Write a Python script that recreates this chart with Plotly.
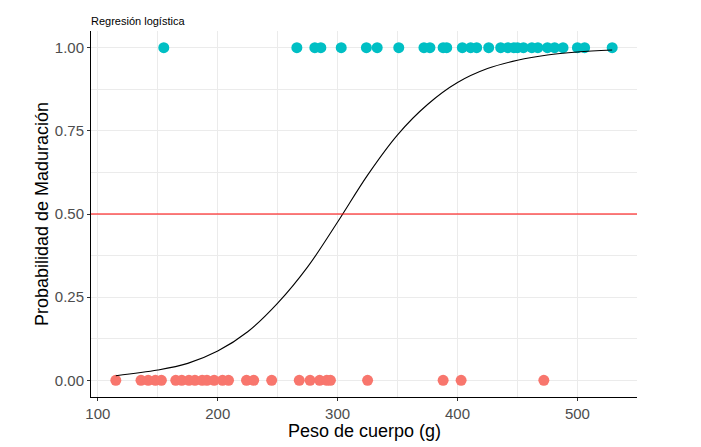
import plotly.graph_objects as go

# Peso de cuerpo (g) de individuos maduros (1) e inmaduros (0)
PESO_MADUROS = [155, 266, 281, 286, 303, 324, 333, 351, 372, 377, 388, 391, 404, 411,
                416, 426, 436, 442, 447, 450, 455, 462, 467, 475, 481, 488, 500, 506, 529]
PESO_INMADUROS = [115, 136, 142, 148, 153, 165, 170, 176, 181, 187, 191, 197, 204, 209,
                  224, 230, 245, 268, 277, 285, 291, 294, 325, 388, 403, 472]

# curva ajustada (glm binomial)
CURVA_PESO = [115, 150, 175, 200, 225, 250, 275, 300, 325, 350, 375, 400, 425, 450, 475, 500, 529]
CURVA_PROB = [0.014, 0.031, 0.051, 0.088, 0.146, 0.232, 0.341, 0.476, 0.617, 0.738,
              0.829, 0.895, 0.937, 0.962, 0.978, 0.987, 0.993]

UMBRAL = 0.5

X_TICKS = [100, 200, 300, 400, 500]
Y_TICKS = [0, 0.25, 0.5, 0.75, 1.0]
Y_TICK_LABELS = ["0.00", "0.25", "0.50", "0.75", "1.00"]

COLOR_MADURO = "#00BFC4"
COLOR_INMADURO = "#F8766D"
GRID = "#EBEBEB"
FONT = "Liberation Sans, Arial, sans-serif"

fig = go.Figure()

fig.add_trace(
    go.Scatter(
        x=PESO_INMADUROS,
        y=[0] * len(PESO_INMADUROS),
        mode="markers",
        marker={"size": 11, "color": COLOR_INMADURO},
        name="0",
    )
)
fig.add_trace(
    go.Scatter(
        x=PESO_MADUROS,
        y=[1] * len(PESO_MADUROS),
        mode="markers",
        marker={"size": 11, "color": COLOR_MADURO},
        name="1",
    )
)
fig.add_trace(
    go.Scatter(
        x=CURVA_PESO,
        y=CURVA_PROB,
        mode="lines",
        line={"color": "black", "width": 1.1, "shape": "spline", "smoothing": 1},
        name="glm",
    )
)

fig.add_hline(y=UMBRAL, line={"color": "#FF0000", "width": 1.2})

axis_common = {
    "showgrid": True,
    "gridcolor": GRID,
    "gridwidth": 1,
    "zeroline": False,
    "showline": True,
    "linecolor": "black",
    "linewidth": 1,
    "ticks": "outside",
    "ticklen": 3,
    "tickcolor": "#333333",
    "tickfont": {"family": FONT, "size": 15, "color": "#4D4D4D"},
}

fig.update_xaxes(
    range=[94.3, 549.7],
    tickvals=X_TICKS,
    minor={"dtick": 50, "showgrid": True, "gridcolor": GRID, "gridwidth": 0.8},
    **axis_common,
)
fig.update_yaxes(
    range=[-0.05, 1.05],
    tickvals=Y_TICKS,
    ticktext=Y_TICK_LABELS,
    title={"text": "Probabilidad de Maduración", "font": {"family": FONT, "size": 18, "color": "black"},
           "standoff": 1},
    minor={"dtick": 0.125, "tick0": 0, "showgrid": True, "gridcolor": GRID, "gridwidth": 0.8},
    **axis_common,
)

# titulo del eje x como anotacion, un poco mas cerca de las etiquetas
fig.add_annotation(
    text="Peso de cuerpo (g)",
    xref="paper",
    yref="paper",
    x=0.5,
    y=-0.092,
    xanchor="center",
    yanchor="middle",
    showarrow=False,
    font={"family": FONT, "size": 18, "color": "black"},
)

fig.update_layout(
    width=701,
    height=447,
    showlegend=False,
    template="none",
    paper_bgcolor="white",
    plot_bgcolor="white",
    margin={"l": 91, "r": 64, "t": 31, "b": 50},
    title={
        "text": "Regresión logística",
        "font": {"family": FONT, "size": 11, "color": "black"},
        "xref": "paper",
        "x": 0,
        "xanchor": "left",
        "yref": "container",
        "y": 1 - 21 / 447,
        "yanchor": "middle",
    },
    font={"family": FONT},
)

# sin margen del body para que la figura ocupe la ventana
fig.write_html(
    "out.html",
    config={"displayModeBar": False},
    post_script="document.body.style.margin='0';",
)
